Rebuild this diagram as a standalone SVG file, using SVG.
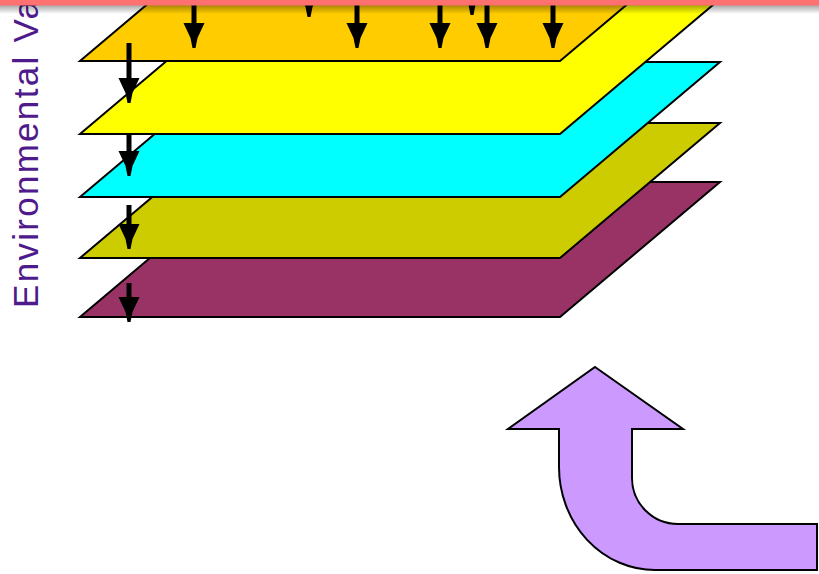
<svg xmlns="http://www.w3.org/2000/svg" width="819" height="574" viewBox="0 0 819 574">
<style>
.layer{stroke:#000;stroke-width:2;stroke-linejoin:miter}
.shaft{stroke:#000;stroke-width:5;fill:none}
.label{font-family:"Liberation Sans",Arial,sans-serif;font-size:35px;fill:#4e1a8c}
</style>
<defs>
<path id="ah" d="M-10.5,-25 L10.5,-25 L3.5,-10 L1.5,0 L-1.5,0 L-3.5,-10 Z" fill="#000"/>
<linearGradient id="shadow" x1="0" y1="0" x2="0" y2="1">
<stop offset="0" stop-color="#000" stop-opacity="0.35"/>
<stop offset="1" stop-color="#000" stop-opacity="0"/>
</linearGradient>
</defs>
<rect width="819" height="574" fill="#fff"/>
<g id="layer-purple"><polygon class="layer" fill="#993366" points="80,317 560,317 720,182 240,182"/></g>
<g id="layer-olive"><polygon class="layer" fill="#cccc00" points="80,258 560,258 720,123 240,123"/></g>
<g id="layer-cyan"><polygon class="layer" fill="#00ffff" points="80,197 560,197 720,62 240,62"/></g>
<g id="layer-yellow"><polygon class="layer" fill="#ffff00" points="80,134 560,134 720,-1 240,-1"/></g>
<g id="layer-orange"><polygon class="layer" fill="#ffcc00" points="80,61 560,61 720,-74 240,-74"/></g>
<g id="connectors">
<line class="shaft" x1="194" y1="0" x2="194" y2="26"/><use href="#ah" x="194" y="48"/>
<line class="shaft" x1="357" y1="0" x2="357" y2="26"/><use href="#ah" x="357" y="48"/>
<line class="shaft" x1="440" y1="0" x2="440" y2="26"/><use href="#ah" x="440" y="48"/>
<line class="shaft" x1="487" y1="0" x2="487" y2="26"/><use href="#ah" x="487" y="48"/>
<line class="shaft" x1="553" y1="0" x2="553" y2="26"/><use href="#ah" x="553" y="48"/>
<use href="#ah" x="309" y="17"/>
<use href="#ah" x="472" y="15"/>
<line class="shaft" x1="129" y1="43" x2="129" y2="82"/><use href="#ah" x="129" y="103"/>
<line class="shaft" x1="129" y1="134" x2="129" y2="156"/><use href="#ah" x="129" y="176"/>
<line class="shaft" x1="129" y1="205" x2="129" y2="226"/><use href="#ah" x="129" y="249"/>
<line class="shaft" x1="129" y1="283" x2="129" y2="300"/><use href="#ah" x="129" y="322"/>
</g>
<g id="feedback-arrow">
<path d="M595,367 L683,429 L632,429 L632,478 A46,46 0 0 0 678,524 L817,524 L817,570 L655,570 A96,103 0 0 1 559,467 L559,429 L508,429 Z" fill="#cc99ff" stroke="#000" stroke-width="2" stroke-linejoin="miter"/>
</g>
<g id="axis-label">
<text class="label" transform="translate(38,308) rotate(-90)" textLength="308" lengthAdjust="spacing">Environmental Va</text>
</g>
<g id="top-bar">
<rect x="0" y="5" width="819" height="9" fill="url(#shadow)"/>
<rect x="0" y="0" width="819" height="5.5" fill="#ff7070"/>
</g>
</svg>
